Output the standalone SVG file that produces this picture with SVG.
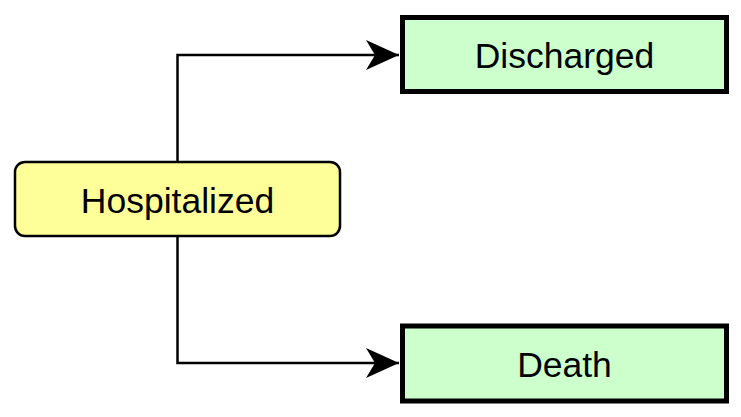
<svg xmlns="http://www.w3.org/2000/svg" width="741" height="417" viewBox="0 0 741 417">
<defs>
<style>
.lbl{font-family:"Liberation Sans",Arial,sans-serif;font-size:35.5px;fill:#000;text-anchor:middle}
.start{fill:#ffff99;stroke:#000;stroke-width:2.5}
.end{fill:#ccffcc;stroke:#000;stroke-width:5}
.edge{fill:none;stroke:#000;stroke-width:2.5}
</style>
<marker id="arr" markerUnits="userSpaceOnUse" markerWidth="34" markerHeight="30" refX="33" refY="15" orient="auto" viewBox="0 0 34 30">
<path d="M0,0 L33,15 L0,30 L9,15 Z" fill="#000"/>
</marker>
</defs>
<rect width="741" height="417" fill="#fff"/>
<g id="connectors">
<path class="edge" d="M177.5,162 V55 H399" marker-end="url(#arr)"/>
<path class="edge" d="M177.5,237 V363 H399" marker-end="url(#arr)"/>
</g>
<g id="hospitalized">
<rect class="start" x="15" y="162" width="325" height="74" rx="10"/>
<text class="lbl" x="177.5" y="212.5">Hospitalized</text>
</g>
<g id="discharged">
<rect class="end" x="402.5" y="17.5" width="324" height="74"/>
<text class="lbl" x="564.5" y="67.5">Discharged</text>
</g>
<g id="death">
<rect class="end" x="402.5" y="326" width="324" height="75"/>
<text class="lbl" x="564.5" y="376.5">Death</text>
</g>
</svg>
